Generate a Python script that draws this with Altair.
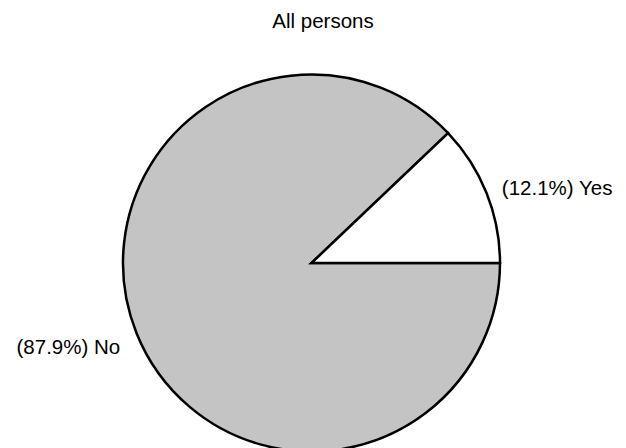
import math
import altair as alt
import pandas as pd

answers = ["No", "Yes"]
shares = [87.9, 12.1]
labels = ["(87.9%) No", "(12.1%) Yes"]
order = [0, 1]

df = pd.DataFrame({"answer": answers, "share": shares, "label": labels, "ord": order})

theta_enc = alt.Theta("share:Q", stack=True,
                      scale=alt.Scale(range=[math.pi / 2, math.pi / 2 + 2 * math.pi]))

base = alt.Chart(df).encode(
    theta=theta_enc,
    order=alt.Order("ord:Q"),
    x=alt.value(303.5),
    y=alt.value(255),
)

pie = base.mark_arc(radius=188.5, stroke="black", strokeWidth=2.5).encode(
    color=alt.Color("answer:N",
                    scale=alt.Scale(domain=["No", "Yes"], range=["#c4c4c4", "#ffffff"]),
                    legend=None)
)

font = "Liberation Sans"

yes_text = base.transform_calculate(
    t="datum.answer == 'Yes' ? datum.label : ''"
).mark_text(radius=205, align="left", baseline="middle", dy=2, fontSize=20.5, font=font,
            color="black").encode(text="t:N")

no_text = base.transform_calculate(
    t="datum.answer == 'No' ? datum.label : ''"
).mark_text(radius=206, align="right", baseline="middle", dy=9, fontSize=20.5, font=font,
            color="black").encode(text="t:N")

chart = alt.layer(pie, yes_text, no_text).properties(
    width=610,
    height=440,
    autosize=alt.AutoSizeParams(type="none"),
    padding=0,
    title=alt.TitleParams(text="All persons", fontSize=20.5, font=font, fontWeight="normal",
                          color="black", anchor="middle", dx=10, dy=28),
).configure_view(stroke=None)

chart.save("out.html", embed_options={"renderer": "svg", "actions": False})
